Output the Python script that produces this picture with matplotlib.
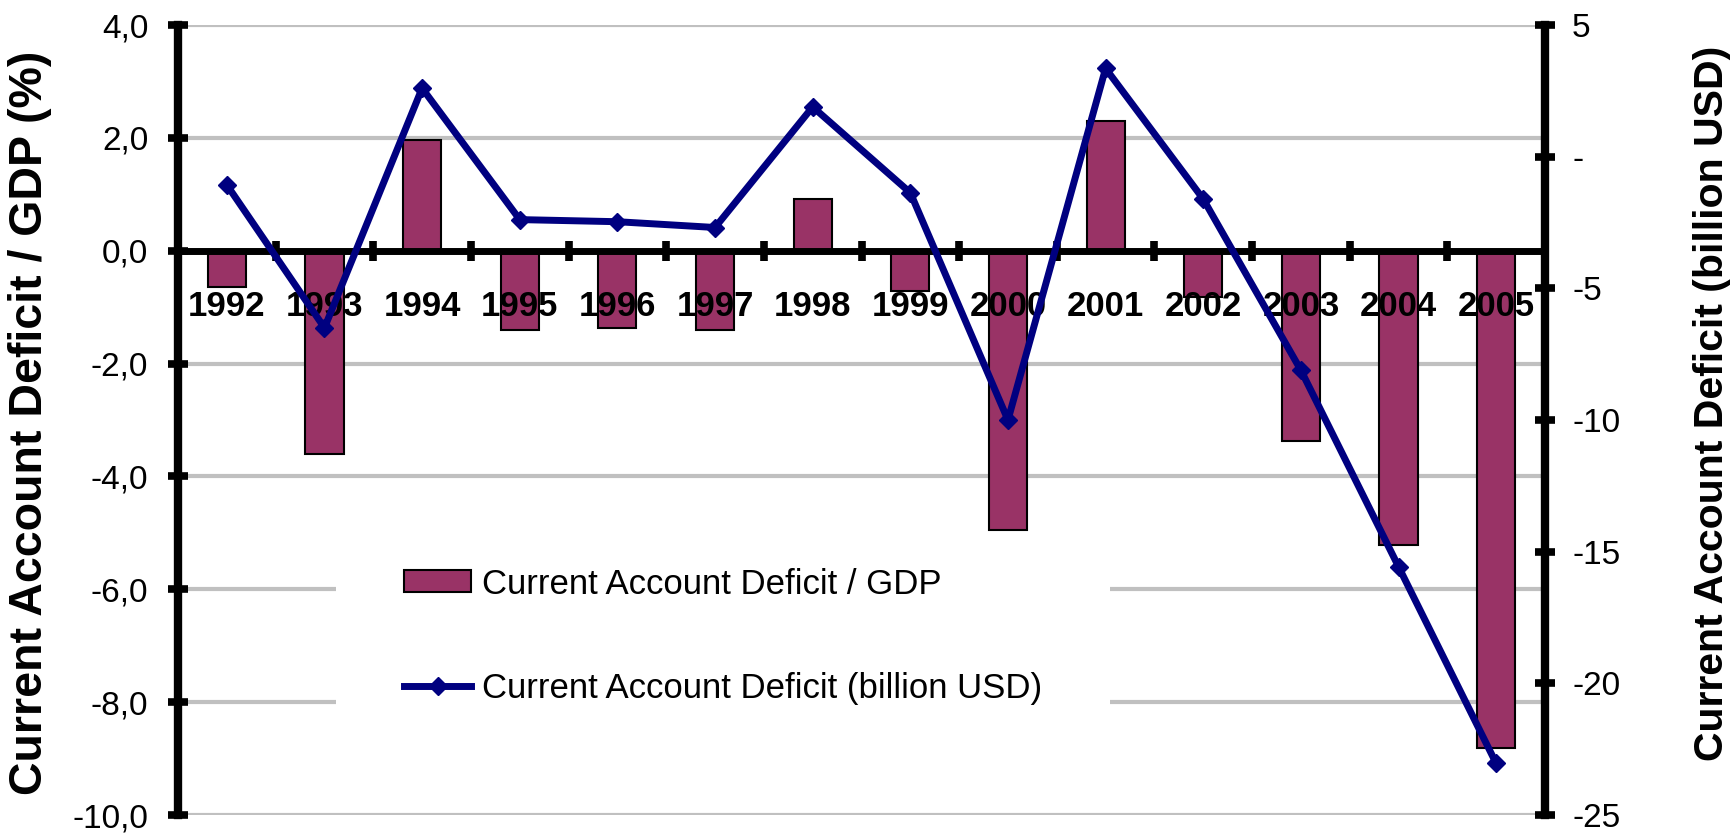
import numpy as np
import matplotlib.pyplot as plt
from matplotlib.ticker import FuncFormatter

plt.rcParams['font.family'] = ['Liberation Sans', 'DejaVu Sans']

years = ['1992', '1993', '1994', '1995', '1996', '1997', '1998',
         '1999', '2000', '2001', '2002', '2003', '2004', '2005']
# current account deficit as % of GDP (left axis)
gdp_ratio = [-0.64, -3.60, 1.96, -1.40, -1.37, -1.41, 0.92,
             -0.72, -4.95, 2.30, -0.82, -3.38, -5.22, -8.82]
# current account deficit in billion USD (right axis)
deficit_usd = [-1.07, -6.50, 2.60, -2.39, -2.47, -2.69, 1.89,
               -1.37, -10.0, 3.35, -1.61, -8.11, -15.57, -23.04]
left_ticks = np.arange(-10, 4.1, 2)
right_ticks = list(range(-25, 6, 5))

W, H = 1736, 834
fig = plt.figure(figsize=(W / 100, H / 100), dpi=100)
ax = fig.add_axes([178 / W, 1 - 815 / H, (1545 - 178) / W, (815 - 25) / H])

x = np.arange(len(years))
bars = ax.bar(x, gdp_ratio, 0.39, color='#993366', edgecolor='black',
              linewidth=1.5, zorder=2, label='Current Account Deficit / GDP')
ax.set_xlim(-0.5, len(years) - 0.5)
ax.set_ylim(-10, 4)
ax.set_yticks(left_ticks)
ax.yaxis.set_major_formatter(FuncFormatter(lambda v, p: f"{v:.1f}".replace('.', ',')))
# gridlines drawn by hand so the tick labels can sit above the bars
for v in left_ticks:
    ax.axhline(v, color='#c0c0c0', linewidth=3, zorder=0.5)
ax.set_axisbelow(False)

ax.spines['top'].set_visible(False)
ax.spines['right'].set_visible(False)
ax.spines['left'].set_linewidth(6)
ax.spines['bottom'].set_position(('data', 0))
ax.spines['bottom'].set_linewidth(5)

ax.set_xticks(x)
ax.set_xticklabels(years, fontweight='bold', fontsize=25)
ax.set_xticks(x[:-1] + 0.5, minor=True)
ax.tick_params(axis='x', which='major', length=0, pad=28)
ax.tick_params(axis='x', which='minor', direction='inout', length=15, width=5.5)
ax.tick_params(axis='y', direction='inout', length=15, width=5.5, labelsize=24, pad=14)

ax2 = ax.twinx()
line, = ax2.plot(x, deficit_usd, color='#000080', lw=5, marker='D', ms=9,
                 label='Current Account Deficit (billion USD)')
ax2.set_ylim(-25, 5)
ax2.set_yticks(right_ticks)
ax2.yaxis.set_major_formatter(FuncFormatter(lambda v, p: '-' if v == 0 else f"{v:.0f}"))
for s in ['top', 'left', 'bottom']:
    ax2.spines[s].set_visible(False)
ax2.spines['right'].set_linewidth(6)
ax2.tick_params(axis='y', direction='inout', length=15, width=5.5, labelsize=24, pad=12)

ax.set_ylabel('Current Account Deficit / GDP (%)', fontsize=33.5, fontweight='bold', va='center')
ax.yaxis.set_label_coords(-0.1085, 0.496)
ax2.set_ylabel('Current Account Deficit (billion USD)', fontsize=29.5, fontweight='bold',
               rotation=90, va='center')
ax2.yaxis.set_label_coords(1.1225, 0.521)

leg = ax.legend(handles=[bars, line], loc='upper left',
                bbox_to_anchor=(336 / W, 1 - 500 / H), bbox_transform=fig.transFigure,
                borderaxespad=0, fontsize=25, frameon=True, facecolor='white',
                edgecolor='none', framealpha=1, fancybox=False, borderpad=1.95,
                handlelength=1.95, handleheight=0.6, handletextpad=0.3, labelspacing=2.05)
leg.set_zorder(1.5)

fig.savefig('out.png', dpi=100)
